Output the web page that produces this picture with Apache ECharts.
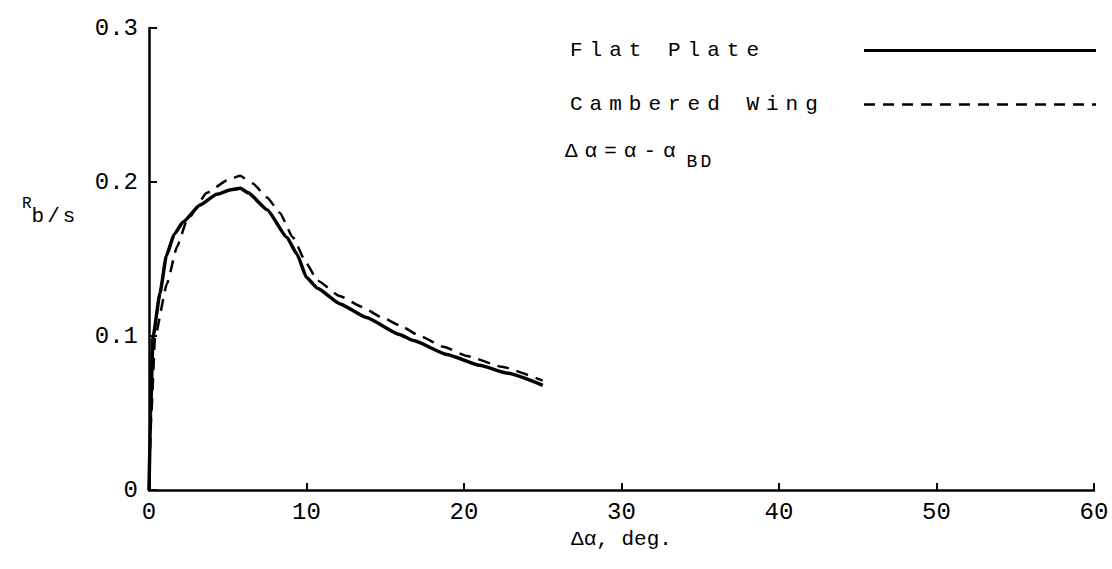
<!DOCTYPE html>
<html><head><meta charset="utf-8">
<script src="https://cdn.jsdelivr.net/npm/echarts@6/dist/echarts.min.js"></script>
<style>
html,body{margin:0;padding:0;background:#fff;}
#chart{width:1112px;height:569px;}
#chart text[style*="Cousine"]{letter-spacing:7px;}
#chart text[style*="Arimo"]{letter-spacing:3px;}
</style></head><body><div id="chart"></div>
<script>
// Data (x: Δα in deg, y: R_b/s)
const flatPlate = [[0,0],[0.1,0.05],[0.25,0.099],[0.7,0.128],[1.1,0.152],[1.6,0.166],[2.16,0.174],[3.24,0.185],[4.3,0.192],[5.2,0.195],[5.8,0.196],[6.3,0.193],[7.5,0.182],[8.76,0.164],[9.4,0.153],[10.0,0.138],[10.7,0.131],[12.1,0.121],[13.8,0.112],[15.9,0.101],[16.8,0.097],[18.9,0.088],[21.0,0.081],[22.7,0.076],[25.0,0.068]];
const camberedWing = [[0,0],[0.15,0.05],[0.38,0.099],[1.14,0.134],[1.78,0.158],[2.41,0.175],[3.68,0.193],[4.95,0.201],[5.78,0.204],[6.6,0.199],[7.5,0.190],[8.3,0.180],[9.14,0.164],[10.0,0.147],[10.7,0.136],[12.1,0.126],[13.5,0.119],[14.8,0.112],[15.9,0.107],[17.2,0.100],[18.7,0.093],[20.2,0.087],[22.4,0.080],[25.0,0.071]];
const seriesNames = ['Flat Plate', 'Cambered Wing'];
const xRange = [0, 60, 10];      // min, max, interval
const yRange = [0, 0.3, 0.1];    // min, max, interval
const xAxisName = 'Δα, deg.';
const noteText = ['Δα=α-α', 'BD'];
const yNameText = ['R', 'b/s'];

const MONO = 'Liberation Mono';
const SPACED = "'Liberation Mono', Cousine";
const SPACED_S = "'Liberation Mono', Arimo";

const chart = echarts.init(document.getElementById('chart'), null, {renderer: 'svg'});
const hiddenSymbol = {color: 'rgba(0,0,0,0)', borderColor: 'rgba(0,0,0,0)', borderWidth: 0, opacity: 0};
chart.setOption({
  animation: false,
  backgroundColor: '#fff',
  grid: {left: 149, right: 18, top: 28, bottom: 79, containLabel: false, outerBoundsMode: 'none'},
  xAxis: {
    type: 'value', min: xRange[0], max: xRange[1], interval: xRange[2],
    name: xAxisName, nameLocation: 'middle', nameGap: 26,
    nameTextStyle: {color: '#000', fontFamily: MONO, fontSize: 21},
    axisLine: {show: true, onZero: false, lineStyle: {color: '#000', width: 2.5}},
    axisTick: {show: true, inside: true, length: 7, lineStyle: {color: '#000', width: 2}},
    axisLabel: {color: '#000', fontFamily: MONO, fontSize: 24, margin: 10},
    splitLine: {show: false}
  },
  yAxis: {
    type: 'value', min: yRange[0], max: yRange[1], interval: yRange[2],
    axisLine: {show: true, onZero: false, lineStyle: {color: '#000', width: 2.5}},
    axisTick: {show: true, inside: true, length: 8, lineStyle: {color: '#000', width: 2}},
    axisLabel: {color: '#000', fontFamily: MONO, fontSize: 24, margin: 11},
    splitLine: {show: false}
  },
  legend: {
    orient: 'vertical', left: 565, top: 35, align: 'right',
    itemWidth: 232, itemHeight: 20, itemGap: 33,
    data: [
      {name: seriesNames[0], itemStyle: hiddenSymbol, lineStyle: {color: '#000', width: 3, type: 'solid'}},
      {name: seriesNames[1], itemStyle: hiddenSymbol, lineStyle: {color: '#000', width: 2.5, type: [11, 8]}}
    ],
    formatter: '{t|{name}}',
    textStyle: {color: '#000', fontFamily: SPACED, fontSize: 21,
      rich: {t: {width: 289, align: 'left', fontFamily: SPACED, fontSize: 21, color: '#000'}}}
  },
  graphic: [
    {type: 'text', x: 565, y: 151, silent: true,
      style: {text: '{a|' + noteText[0] + '}{b|' + noteText[1] + '}', verticalAlign: 'middle',
        rich: {a: {fontFamily: SPACED, fontSize: 21, fill: '#000', color: '#000'},
               b: {fontFamily: SPACED_S, fontSize: 18, fill: '#000', color: '#000', padding: [22, 0, 0, 46]}}}},
    {type: 'text', x: 22, y: 204, silent: true,
      style: {text: '{a|' + yNameText[0] + '}{b|' + yNameText[1] + '}', verticalAlign: 'middle',
        rich: {a: {fontFamily: MONO, fontSize: 16, fill: '#000', color: '#000'},
               b: {fontFamily: SPACED_S, fontSize: 21, fill: '#000', color: '#000', padding: [24, 0, 0, 0]}}}}
  ],
  series: [
    {name: seriesNames[0], type: 'line', data: flatPlate, symbol: 'none', smooth: 0.15, smoothMonotone: 'x',
      lineStyle: {color: '#000', width: 3.5, type: 'solid'}, itemStyle: {color: '#000'}, z: 3},
    {name: seriesNames[1], type: 'line', data: camberedWing, symbol: 'none', smooth: 0.15, smoothMonotone: 'x',
      lineStyle: {color: '#000', width: 2.5, type: [12, 8]}, itemStyle: {color: '#000'}, z: 2}
  ]
});
</script></body></html>
